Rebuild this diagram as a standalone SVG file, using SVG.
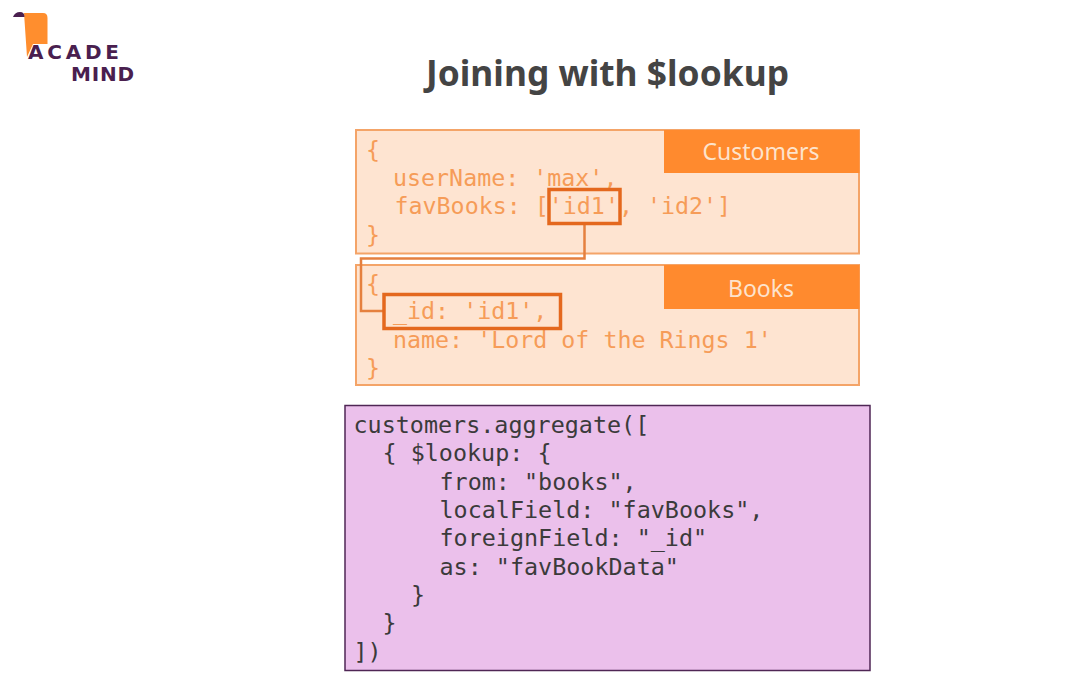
<svg xmlns="http://www.w3.org/2000/svg" width="1084" height="690" viewBox="0 0 1084 690">
<style>
.box{fill:#fee4d1;stroke:#f4a468;stroke-width:2}
.tab{fill:#ff8a2e}
.tabt{font:23px "Noto Sans",sans-serif;fill:#fde3cc;text-anchor:middle}
.code{font:23.3px "DejaVu Sans Mono",monospace;fill:#f69c58}
.hl{fill:none;stroke:#e4681e;stroke-width:3.5}
.wire{fill:none;stroke:#e5803f;stroke-width:2.5}
.q{font:23.4px "DejaVu Sans Mono",monospace;fill:#3b3b3b}
.logo{font:700 20px "DejaVu Sans",sans-serif;fill:#4a1f4f}
</style>
<rect width="1084" height="690" fill="#fff"/>
<g id="logo">
<path d="M24 13H43Q47.500 13 47.500 18V44H33L27 57Z" fill="#ff8e2e"/>
<path d="M13 17Q15 12 20 12Q24.500 12 24.500 17Z" fill="#4a1f4f"/>
<text class="logo" x="28" y="59" textLength="91" lengthAdjust="spacing">ACADE</text>
<text class="logo" x="71" y="81" textLength="63" lengthAdjust="spacing">MIND</text>
</g>
<text id="title" x="426" y="86" textLength="363" lengthAdjust="spacingAndGlyphs" style="font:700 35px 'Noto Sans',sans-serif;fill:#444">Joining with $lookup</text>
<g id="customers">
<rect class="box" x="356" y="130" width="503" height="123.500"/>
<rect class="tab" x="664" y="130" width="195.500" height="43"/>
<text class="tabt" x="761" y="160">Customers</text>
<text class="code" x="366" y="158">{</text>
<text class="code" x="393" y="186">userName: 'max',</text>
<text class="code" x="394.500" y="214">favBooks: ['id1', 'id2']</text>
<text class="code" x="366" y="243">}</text>
</g>
<g id="books">
<rect class="box" x="356" y="265" width="503" height="120"/>
<rect class="tab" x="664" y="265" width="195.500" height="44"/>
<text class="tabt" x="761" y="297">Books</text>
<text class="code" x="366" y="292">{</text>
<text class="code" x="393" y="319">_id: 'id1',</text>
<text class="code" x="393" y="348">name: 'Lord of the Rings 1'</text>
<text class="code" x="366" y="376">}</text>
</g>
<g id="connectors">
<path class="wire" d="M584.500 224V258.500H361V311H384"/>
</g>
<g id="highlights">
<rect class="hl" x="549" y="189.500" width="71" height="34"/>
<rect class="hl" x="384" y="294.500" width="176.500" height="34"/>
</g>
<g id="query">
<rect x="345" y="405.500" width="525" height="265" fill="#ebc0eb" stroke="#4f2655" stroke-width="1.500"/>
<text class="q" x="353.500" y="433">customers.aggregate([</text>
<text class="q" x="382.500" y="461">{ $lookup: {</text>
<text class="q" x="439.500" y="490">from: "books",</text>
<text class="q" x="439.500" y="518">localField: "favBooks",</text>
<text class="q" x="439.500" y="546">foreignField: "_id"</text>
<text class="q" x="439.500" y="575">as: "favBookData"</text>
<text class="q" x="411" y="603">}</text>
<text class="q" x="382.500" y="631">}</text>
<text class="q" x="353.500" y="660">])</text>
</g>
</svg>
